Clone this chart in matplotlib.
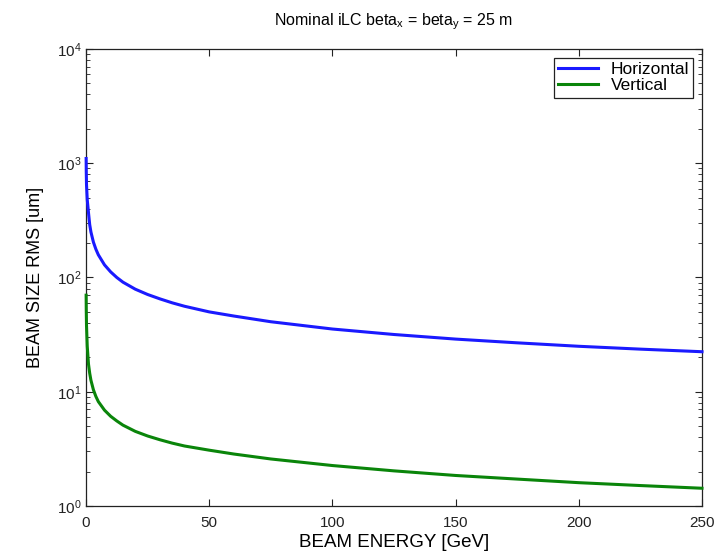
import matplotlib
matplotlib.use('Agg')
import matplotlib.pyplot as plt
from matplotlib.ticker import LogLocator, FixedLocator

plt.rcParams['font.family'] = ['Liberation Sans', 'DejaVu Sans']

# beam energy [GeV]
energy = [0.05, 0.1, 0.2, 0.5, 1, 1.5, 2, 3, 4, 5, 7.5, 10, 12.5, 15, 20,
          25, 30, 35, 40, 50, 60, 75, 100, 125, 150, 175, 200, 225, 250]
# rms beam size [um]
horizontal = [1100, 850, 650, 480, 370, 290, 250, 204, 177, 158, 129, 112,
              100, 91, 79, 71, 65, 60, 56, 50, 46, 41, 35.4, 31.7, 28.9,
              26.8, 25.0, 23.6, 22.4]
vertical = [70, 52, 38, 25, 17.5, 14.5, 12.6, 10.4, 9.1, 8.2, 6.9, 6.1,
            5.55, 5.1, 4.5, 4.1, 3.8, 3.55, 3.35, 3.08, 2.85, 2.58, 2.26,
            2.03, 1.85, 1.72, 1.60, 1.51, 1.43]

fig = plt.figure(figsize=(7.24, 5.53), dpi=100)
ax = fig.add_axes([0.1188, 0.085, 0.8508, 0.8264])

# curves sit on top of the axis box, like the original MATLAB figure
ax.semilogy(energy, horizontal, color='#1a1aff', lw=2.2, label='Horizontal',
            zorder=3, clip_on=False)
ax.semilogy(energy, vertical, color='#0a850a', lw=2.2, label='Vertical',
            zorder=3, clip_on=False)

ax.set_xlim(0, 250)
ax.set_ylim(1, 1e4)
ax.xaxis.set_major_locator(FixedLocator([0, 50, 100, 150, 200, 250]))
ax.yaxis.set_major_locator(LogLocator(base=10, numticks=10))
ax.yaxis.set_minor_locator(LogLocator(base=10, subs=range(2, 10), numticks=10))
ax.tick_params(which='both', direction='in', top=True, right=True,
               labelsize=11, colors='#222222')
ax.tick_params(axis='x', pad=7)
ax.tick_params(which='major', length=5)
ax.tick_params(which='minor', length=3)
for s in ax.spines.values():
    s.set_color('#222222')
    s.set_linewidth(0.9)

ax.set_xlabel('BEAM ENERGY [GeV]', fontsize=13.5, labelpad=3)
ax.set_ylabel('BEAM SIZE RMS [um]', fontsize=13, labelpad=9)
ax.set_title('Nominal iLC beta$_\\mathregular{x}$ = beta$_\\mathregular{y}$ = 25 m',
             fontsize=11.5, pad=17)

leg = ax.legend(loc='upper right', fontsize=12.5, fancybox=False,
                framealpha=1, edgecolor='#222222', handlelength=2.3,
                handletextpad=0.7, borderpad=0.25, labelspacing=0.05,
                borderaxespad=0.5)
leg.get_frame().set_linewidth(0.9)
leg.set_zorder(4)

fig.savefig('out.png', dpi=100)
